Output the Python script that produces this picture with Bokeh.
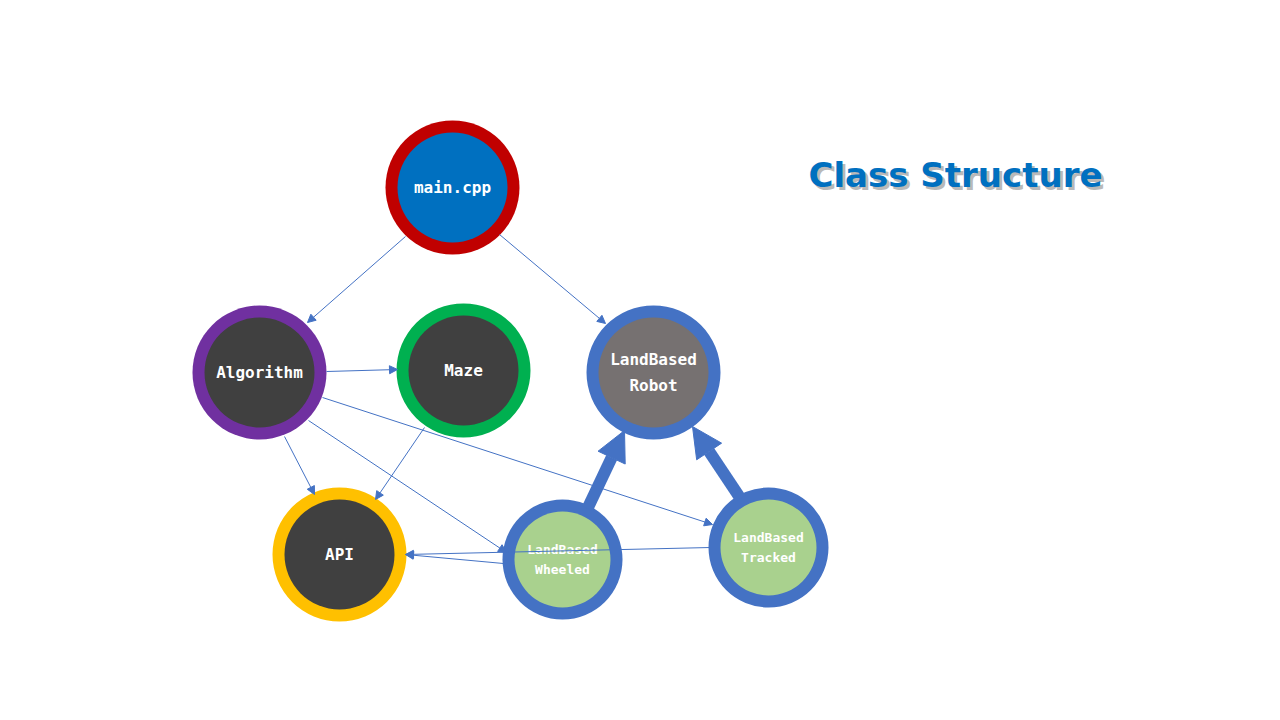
from bokeh.plotting import figure
from bokeh.models import Range1d, Arrow, NormalHead, VeeHead
from bokeh.core.properties import value
from bokeh.embed import file_html
from bokeh.resources import INLINE

# nodes (pixel coordinates of the slide)
names = ["main", "alg", "maze", "robot", "api", "wheeled", "tracked"]
labels = ["main.cpp", "Algorithm", "Maze", "LandBased\nRobot", "API", "LandBased\nWheeled", "LandBased\nTracked"]
xs = [460, 267, 471, 661, 347, 570, 776]
ys = [195, 380, 378, 380, 562, 567, 555]
outer_r = [67, 67, 67, 67, 67, 60, 60]
inner_r = [55, 55, 55, 55, 55, 48, 48]
ring_colors = ["#C00000", "#7030A0", "#00B050", "#4472C4", "#FFC000", "#4472C4", "#4472C4"]
fill_colors = ["#0070C0", "#404040", "#404040", "#767171", "#404040", "#A9D18E", "#A9D18E"]
label_sizes = ["16px", "16px", "16px", "16px", "16px", "13px", "13px"]

# thin dependency arrows: start x, start y, end x, end y
thin_x0 = [413, 507, 334, 292, 432, 316, 330, 511, 718]
thin_y0 = [244, 242, 379, 444, 435, 428, 405, 571, 555]
thin_x1 = [315, 613, 405, 322, 383, 514, 720, 413, 413]
thin_y1 = [330, 331, 377, 502, 507, 560, 532, 562, 562]

# thick inheritance arrows
thick_x0 = [595, 748]
thick_y0 = [516, 506]
thick_x1 = [632, 700]
thick_y1 = [438, 434]

p = figure(width=1264, height=704, output_backend="svg", toolbar_location=None,
           x_range=Range1d(8, 1272), y_range=Range1d(712, 8),
           min_border=0)
p.axis.visible = False
p.grid.visible = False
p.outline_line_color = None

for i in range(len(thin_x0)):
    p.add_layout(Arrow(end=NormalHead(size=8, fill_color="#4472C4", line_color="#4472C4"),
                       x_start=thin_x0[i], y_start=thin_y0[i], x_end=thin_x1[i], y_end=thin_y1[i],
                       line_color="#4472C4", line_width=1))

p.circle(x=xs, y=ys, radius=outer_r, fill_color=ring_colors, line_color=None)
p.circle(x=xs, y=ys, radius=inner_r, fill_color=fill_colors, line_color=None)

for i in range(len(thick_x0)):
    p.add_layout(Arrow(end=NormalHead(size=30, fill_color="#4472C4", line_color="#4472C4"),
                       x_start=thick_x0[i], y_start=thick_y0[i], x_end=thick_x1[i], y_end=thick_y1[i],
                       line_color="#4472C4", line_width=12))

for i in range(len(xs)):
    p.text(x=[xs[i]], y=[ys[i]], text=[labels[i]], text_color="white",
           text_font=value("DejaVu Sans Mono"), text_font_style="bold",
           text_font_size=label_sizes[i], text_align="center", text_baseline="middle",
           text_line_height=1.35)

p.text(x=[966], y=[185], text=["Class Structure"], text_color="#9a9a9a", text_alpha=0.7,
       text_font=value("DejaVu Sans"), text_font_style="bold", text_font_size="34px",
       text_align="center", text_baseline="middle")
p.text(x=[963], y=[182], text=["Class Structure"], text_color="#0070C0",
       text_font=value("DejaVu Sans"), text_font_style="bold", text_font_size="34px",
       text_align="center", text_baseline="middle")

open("out.html", "w").write(file_html(p, INLINE))
